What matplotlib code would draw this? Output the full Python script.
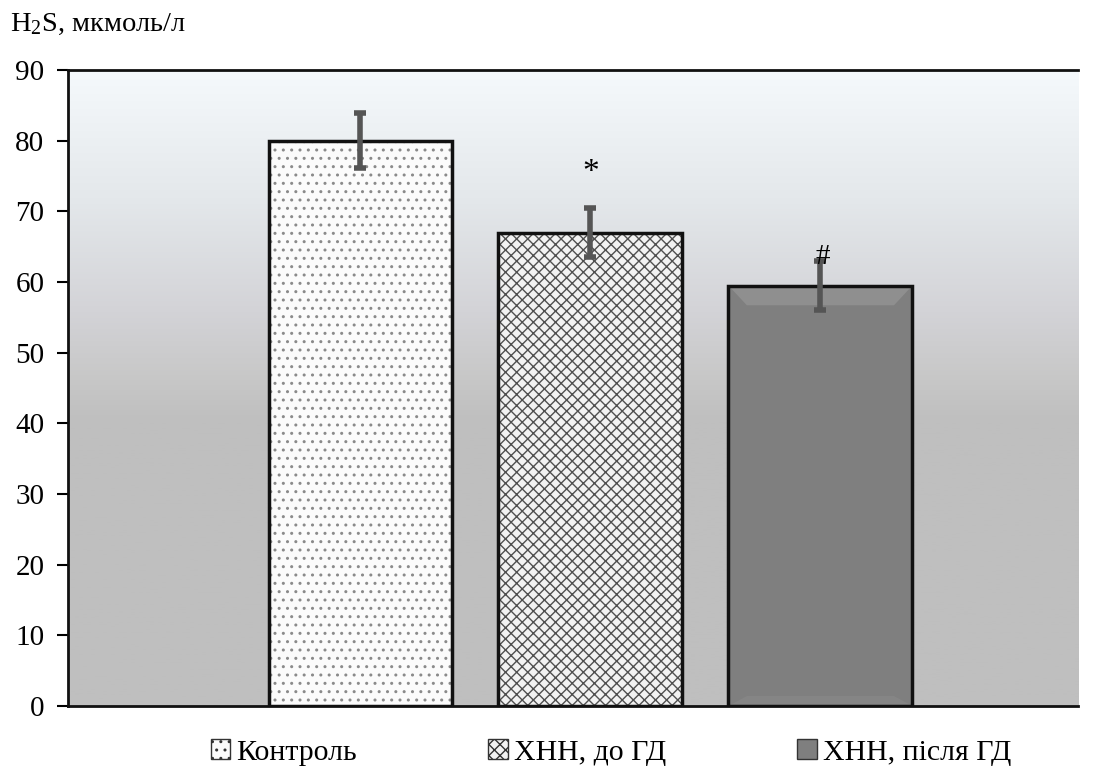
import numpy as np
import matplotlib
matplotlib.use('Agg')
import matplotlib.pyplot as plt
from matplotlib.colors import LinearSegmentedColormap
from matplotlib.patches import Patch, Polygon

plt.rcParams['font.family'] = ['Liberation Serif', 'DejaVu Serif']
plt.rcParams['mathtext.default'] = 'regular'
plt.rcParams['hatch.linewidth'] = 1.0

# Дані
groups = ['Контроль', 'ХНН, до ГД', 'ХНН, після ГД']
values = [80.0, 67.0, 59.5]
errors = [3.9, 3.4, 3.4]
marks = ['', '*', '#']
yticks = [0, 10, 20, 30, 40, 50, 60, 70, 80, 90]

fig = plt.figure(figsize=(11.07, 7.74), dpi=100)
ax = fig.add_axes([0.0614, 0.0879, 0.9124, 0.8217])

xlim = (-1.272, 3.12)
ax.set_xlim(*xlim)
ax.set_ylim(0, 90)

# Градієнтний фон
bg = LinearSegmentedColormap.from_list(
    'bg', [(0.0, '#bfbfbf'), (0.45, '#bfbfbf'), (0.52, '#c8c8c8'),
           (0.62, '#d3d3d7'), (0.8, '#e4e8eb'), (1.0, '#f5f9fc')])
grad = np.linspace(0, 1, 256).reshape(-1, 1)
ax.imshow(grad, cmap=bg, origin='lower', aspect='auto',
          extent=(xlim[0], xlim[1], 0, 90), zorder=0)

x = np.arange(len(groups))
width = 0.80
faces = ['#fbfbfb', '#f2f2f2', '#7f7f7f']
hatches = ['..', 'xxx', '']
hcolors = ['#8a8a8a', '#505050', '#7f7f7f']
for i in range(len(groups)):
    ax.bar(x[i], values[i], width=width, color=faces[i], hatch=hatches[i],
           edgecolor=hcolors[i], linewidth=0, zorder=2)
    ax.bar(x[i], values[i], width=width, fill=False, edgecolor='#111111',
           linewidth=2.5, zorder=3)

# фаска на третьому стовпчику
l, r, t = x[2] - width / 2, x[2] + width / 2, values[2]
dx, dy = 0.08, 2.8
ax.add_patch(Polygon([(l, t), (r, t), (r - dx, t - dy), (l + dx, t - dy)],
                     closed=True, facecolor='#9a9a9a', edgecolor='none', alpha=0.6, zorder=2.5))
ax.add_patch(Polygon([(l, 0), (r, 0), (r - dx, dy * 0.5), (l + dx, dy * 0.5)],
                     closed=True, facecolor='#8c8c8c', edgecolor='none', alpha=0.5, zorder=2.5))

ax.errorbar(x, values, yerr=errors, fmt='none', ecolor='#555555',
            elinewidth=4, capsize=4.5, capthick=4, zorder=4)

ax.text(x[1], 75.5, marks[1], ha='center', va='center', fontsize=24, zorder=5)
ax.text(x[2] + 0.01, 63.5, marks[2], ha='center', va='center', fontsize=21, zorder=5)

ax.set_yticks(yticks)
ax.set_xticks([])
ax.tick_params(axis='y', labelsize=21, length=8, width=1.5, direction='out', pad=9)
for s in ['left', 'top', 'bottom']:
    ax.spines[s].set_linewidth(2)
    ax.spines[s].set_color('#111111')
ax.spines['right'].set_visible(False)

fig.text(0.009, 0.968, 'H$_2$S, мкмоль/л', fontsize=20.5, va='center', ha='left')

handles = [Patch(facecolor=faces[i], edgecolor='#333333', hatch=hatches[i],
                 linewidth=1) for i in range(3)]
fig.legend(handles, groups, loc='center', bbox_to_anchor=(0.552, 0.028),
           ncol=3, frameon=False, fontsize=21.5, handlelength=0.65,
           handleheight=0.65, handletextpad=0.2, columnspacing=4.4)

fig.savefig('out.png', dpi=100, facecolor='white')
